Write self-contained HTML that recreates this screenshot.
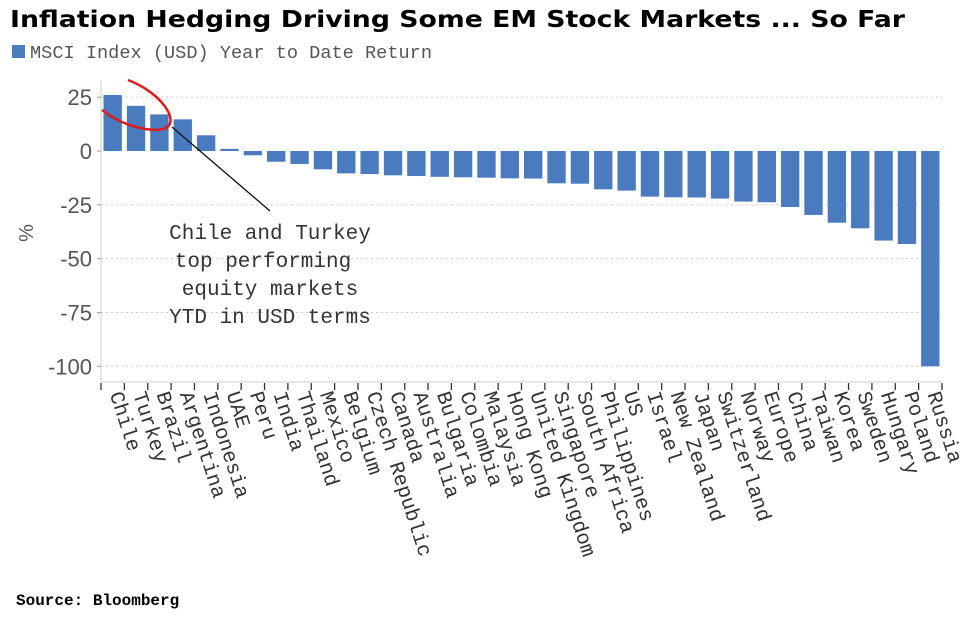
<!DOCTYPE html>
<html><head><meta charset="utf-8"><style>
html,body{margin:0;padding:0;background:#fff;width:980px;height:630px;overflow:hidden}
svg{display:block}
</style></head><body>
<svg id="chart" width="980" height="630" viewBox="0 0 980 630" xmlns="http://www.w3.org/2000/svg">
<text x="10" y="27" font-family="'DejaVu Sans',sans-serif" font-weight="bold" font-size="23" textLength="895" lengthAdjust="spacingAndGlyphs" fill="#000">Inflation Hedging Driving Some EM Stock Markets ... So Far</text>
<g>
<rect x="12" y="45" width="13" height="13" fill="#4a7bbf"/>
<text x="30" y="58" font-family="'Liberation Mono',monospace" font-size="18" textLength="402" lengthAdjust="spacingAndGlyphs" fill="#555">MSCI Index (USD) Year to Date Return</text>
</g>
<text transform="translate(33,233) rotate(-90)" text-anchor="middle" font-family="'Liberation Sans',sans-serif" font-size="20" fill="#555">%</text>
<g id="grid"></g><g id="bars"></g><g id="axes"></g><g id="labels"></g>
<g>
<line x1="172" y1="127" x2="270" y2="211" stroke="#111" stroke-width="1.3"/>
<path d="M102,110 C125,128 155,133 166,128 C180,120 160,92 128,80" fill="none" stroke="#e01a1a" stroke-width="2.5"/>
<g font-family="'Liberation Mono',monospace" font-size="21" fill="#333" text-anchor="middle">
<text x="270" y="239">Chile and Turkey</text>
<text x="263" y="267">top performing</text>
<text x="270" y="295">equity markets</text>
<text x="270" y="323">YTD in USD terms</text>
</g></g>
<text x="16" y="605" font-family="'Liberation Mono',monospace" font-weight="bold" font-size="16" fill="#000">Source: Bloomberg</text>
</svg>
<script>
const categories=["Chile","Turkey","Brazil","Argentina","Indonesia","UAE","Peru","India","Thailand","Mexico","Belgium","Czech Republic","Canada","Australia","Bulgaria","Colombia","Malaysia","Hong Kong","United Kingdom","Singapore","South Africa","Philippines","US","Israel","New Zealand","Japan","Switzerland","Norway","Europe","China","Taiwan","Korea","Sweden","Hungary","Poland","Russia"];
const values=[26,21,17,14.7,7.3,1,-2,-5,-6,-8.5,-10.4,-10.7,-11.3,-11.6,-12,-12.2,-12.4,-12.7,-12.8,-15,-15.2,-17.8,-18.4,-21.2,-21.5,-21.6,-22.1,-23.5,-23.8,-26,-29.7,-33.3,-35.9,-41.6,-43.2,-100];
const yTicks=[25,0,-25,-50,-75,-100];
const NS="http://www.w3.org/2000/svg";
const X0=101,X1=942,Y0=151,K=2.153;
const band=(X1-X0)/categories.length;
const y=v=>Y0-v*K;
const xb=i=>X0+i*band;
function mk(tag,attrs,parent){const e=document.createElementNS(NS,tag);for(const k in attrs)e.setAttribute(k,attrs[k]);parent.appendChild(e);return e;}
const grid=document.getElementById('grid'),bars=document.getElementById('bars'),axes=document.getElementById('axes'),labels=document.getElementById('labels');
yTicks.forEach(t=>{
  if(t!==0){const g=mk('line',{x1:X0,x2:X1,y1:y(t),y2:y(t),stroke:'#ccc','stroke-dasharray':'2,3','stroke-width':1},grid);
  
  }
  const tk=mk('line',{x1:X0-4,x2:X0,y1:y(t),y2:y(t),stroke:'#999'},axes);
  
  
  const tl=mk('text',{x:92,y:y(t)+8,'text-anchor':'end','font-family':"'Liberation Sans',sans-serif",'font-size':22,fill:'#555'},axes);
  tl.textContent=t;
  
  
});
values.forEach((v,i)=>{
  const top=Math.min(y(v),Y0),h=Math.max(Math.abs(y(v)-Y0),1);
  const r=mk('rect',{x:xb(i)+2.5,y:top,width:band-5,height:h,fill:'#4a7bbf'},bars);
  
  
});
const ya=mk('line',{x1:X0,x2:X0,y1:80,y2:382,stroke:'#ccc'},axes);


const xa=mk('line',{x1:X0,x2:X1,y1:382,y2:382,stroke:'#ccc'},axes);


for(let i=0;i<=categories.length;i++){
  const t=mk('line',{x1:xb(i),x2:xb(i),y1:383,y2:390,stroke:'#333','stroke-width':1.3},axes);
  
  
}
categories.forEach((c,i)=>{
  const cx=xb(i)+band/2-3;
  const t=mk('text',{transform:`translate(${cx},394) rotate(72)`,'font-family':"'Liberation Mono',monospace",'font-size':20.5,fill:'#333'},labels);
  t.textContent=c;
  
  
});
</script>
</body></html>
